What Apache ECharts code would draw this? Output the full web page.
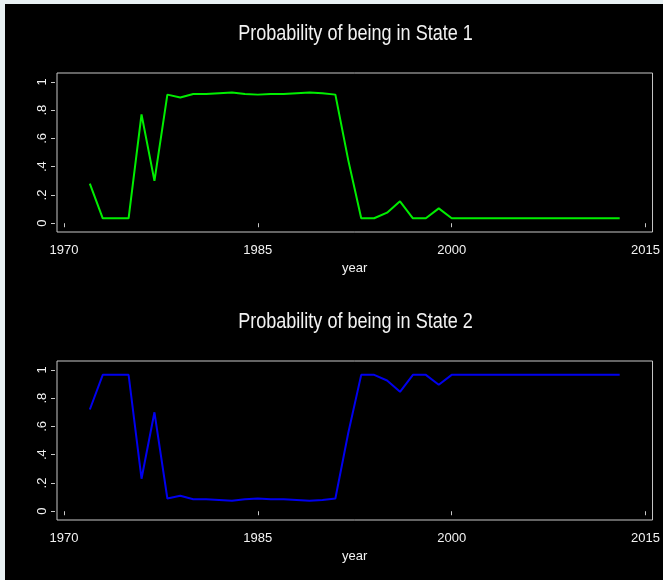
<!DOCTYPE html>
<html>
<head>
<meta charset="utf-8">
<title>Regime probabilities</title>
<script src="https://cdn.jsdelivr.net/npm/echarts@6/dist/echarts.min.js"></script>
<style>
  html, body { margin: 0; padding: 0; background: #e9f1f3; }
  #chart { width: 663px; height: 580px; }
</style>
</head>
<body>
<div id="chart"></div>
<script>
// Smoothed regime probabilities, one value per year (1972-2013)
var years = [1972, 1973, 1974, 1975, 1976, 1977, 1978, 1979, 1980, 1981,
             1982, 1983, 1984, 1985, 1986, 1987, 1988, 1989, 1990, 1991,
             1992, 1993, 1994, 1995, 1996, 1997, 1998, 1999, 2000, 2001,
             2002, 2003, 2004, 2005, 2006, 2007, 2008, 2009, 2010, 2011,
             2012, 2013];

var probState1 = [0.28, 0.035, 0.035, 0.035, 0.77, 0.30, 0.91, 0.89, 0.915, 0.915,
                  0.92, 0.925, 0.915, 0.91, 0.915, 0.915, 0.92, 0.925, 0.92, 0.91,
                  0.445, 0.035, 0.035, 0.075, 0.155, 0.035, 0.035, 0.105, 0.035, 0.035,
                  0.035, 0.035, 0.035, 0.035, 0.035, 0.035, 0.035, 0.035, 0.035, 0.035,
                  0.035, 0.035];

var probState2 = [0.72, 0.965, 0.965, 0.965, 0.23, 0.70, 0.09, 0.11, 0.085, 0.085,
                  0.08, 0.075, 0.085, 0.09, 0.085, 0.085, 0.08, 0.075, 0.08, 0.09,
                  0.555, 0.965, 0.965, 0.925, 0.845, 0.965, 0.965, 0.895, 0.965, 0.965,
                  0.965, 0.965, 0.965, 0.965, 0.965, 0.965, 0.965, 0.965, 0.965, 0.965,
                  0.965, 0.965];

var xTicks = [1970, 1985, 2000, 2015];
var yTicks = [0, 0.2, 0.4, 0.6, 0.8, 1];
var yTickLabels = ['0', '.2', '.4', '.6', '.8', '1'];

var titles = ['Probability of being in State 1', 'Probability of being in State 2'];
var xTitle = 'year';

var FONT = "'Liberation Sans', Arial, sans-serif";
var TEXT = '#f2f2f2';
var FRAME = '#c8c8c8';

function pairs(xs, ys) {
  return xs.map(function (x, i) { return [x, ys[i]]; });
}

var panelTops = [73, 361];

function xAxisFor(i) {
  return {
    type: 'value', gridIndex: i,
    min: 1969.46, max: 2015.54,
    offset: 1,
    splitLine: { show: false },
    axisLine: { show: false },
    axisTick: { show: true, length: 4, inside: false,
                lineStyle: { color: FRAME, width: 1 }, customValues: xTicks },
    axisLabel: { show: true, margin: 11, color: TEXT, fontFamily: FONT, fontSize: 13,
                 customValues: xTicks, formatter: function (v) { return String(v); } },
    name: xTitle, nameLocation: 'middle', nameGap: 29,
    nameTextStyle: { color: TEXT, fontFamily: FONT, fontSize: 13 }
  };
}

function yAxisFor(i) {
  return {
    type: 'value', gridIndex: i,
    min: -0.062, max: 1.063,
    offset: 2,
    splitLine: { show: false },
    axisLine: { show: false },
    axisTick: { show: true, length: 4, inside: false,
                lineStyle: { color: FRAME, width: 1 }, customValues: yTicks },
    axisLabel: { show: true, rotate: 90, margin: 6, color: TEXT, fontFamily: FONT, fontSize: 13,
                 customValues: yTicks,
                 formatter: function (v) {
                   var k = yTicks.findIndex(function (t) { return Math.abs(t - v) < 1e-6; });
                   return k >= 0 ? yTickLabels[k] : '';
                 } }
  };
}

// Panel headings: condensed type, centred over each plot frame
function heading(text, cy) {
  return {
    type: 'text', x: 355.5, y: cy, scaleX: 0.82, silent: true,
    style: { text: text, fill: TEXT, fontSize: 22, fontFamily: FONT,
             align: 'center', verticalAlign: 'middle' }
  };
}

var chart = echarts.init(document.getElementById('chart'), null, { renderer: 'canvas' });

chart.setOption({
  backgroundColor: '#000000',
  animation: false,
  graphic: [
    { type: 'rect', x: 0, y: 0, shape: { width: 663, height: 4 }, style: { fill: '#e9f1f3' }, silent: true },
    { type: 'rect', x: 0, y: 0, shape: { width: 5, height: 580 }, style: { fill: '#e9f1f3' }, silent: true },
    heading(titles[0], 34),
    heading(titles[1], 321.5)
  ],
  grid: panelTops.map(function (top) {
    return { left: 57, top: top, width: 597, height: 159, show: true,
             borderColor: FRAME, borderWidth: 1, backgroundColor: '#000000', containLabel: false };
  }),
  xAxis: [xAxisFor(0), xAxisFor(1)],
  yAxis: [yAxisFor(0), yAxisFor(1)],
  series: [
    { type: 'line', xAxisIndex: 0, yAxisIndex: 0, data: pairs(years, probState1),
      showSymbol: false, lineStyle: { color: '#00ee00', width: 2 }, itemStyle: { color: '#00ee00' } },
    { type: 'line', xAxisIndex: 1, yAxisIndex: 1, data: pairs(years, probState2),
      showSymbol: false, lineStyle: { color: '#0000ee', width: 2 }, itemStyle: { color: '#0000ee' } }
  ]
});
</script>
</body>
</html>
